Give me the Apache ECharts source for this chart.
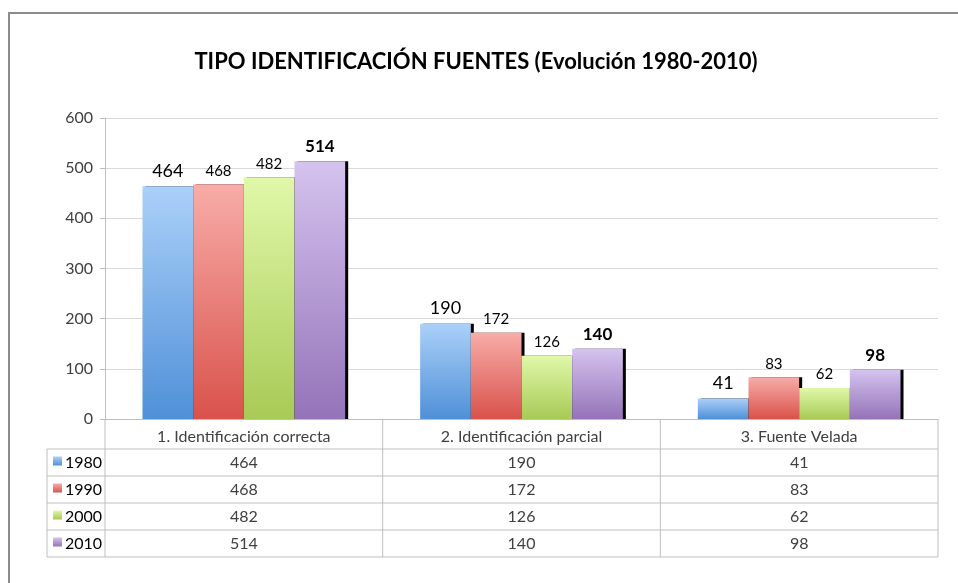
<!DOCTYPE html>
<html>
<head>
<meta charset="utf-8">
<script src="https://cdn.jsdelivr.net/npm/echarts@6/dist/echarts.min.js"></script>
<style>
  html, body { margin: 0; padding: 0; background: #fff; }
  #main { width: 958px; height: 583px; }
</style>
</head>
<body>
<div id="main"></div>
<script>
// data
const categories = ['1. Identificación correcta', '2. Identificación parcial', '3. Fuente Velada'];
const years = ['1980', '1990', '2000', '2010'];
const v1980 = [464, 190, 41];
const v1990 = [468, 172, 83];
const v2000 = [482, 126, 62];
const v2010 = [514, 140, 98];
const yTicks = [0, 100, 200, 300, 400, 500, 600];

const seriesValues = [v1980, v1990, v2000, v2010];
const topColors = ['#abd0f8', '#f8aca8', '#e0f8a9', '#d5c3ef'];
const bottomColors = ['#4f90d8', '#d9524b', '#a8ca56', '#9473b8'];
const labelStyles = [
  { fontSize: 18, fontWeight: 'normal' },
  { fontSize: 15, fontWeight: 'normal' },
  { fontSize: 15, fontWeight: 'normal' },
  { fontSize: 17, fontWeight: 'bold' }
];

const FONT = 'Lato, "Open Sans", sans-serif';
const chart = echarts.init(document.getElementById('main'));

function grad(i) {
  return new echarts.graphic.LinearGradient(0, 0, 0, 1, [
    { offset: 0, color: topColors[i] },
    { offset: 1, color: bottomColors[i] }
  ]);
}

var option = {
  backgroundColor: '#fff',
  animation: false,
  title: {
    text: 'TIPO IDENTIFICACIÓN FUENTES (Evolución 1980-2010)',
    left: 471,
    textAlign: 'center',
    top: 46,
    textStyle: { fontFamily: FONT, fontSize: 22, fontWeight: 'bold', color: '#000' }
  },
  grid: { left: 105, right: 20, top: 118, bottom: 164 },
  xAxis: {
    type: 'category',
    data: categories,
    axisLine: { lineStyle: { color: '#bfbfbf' } },
    axisTick: { show: false },
    axisLabel: { fontFamily: FONT, fontSize: 16, color: '#404040', margin: 10, interval: 0 }
  },
  yAxis: {
    type: 'value',
    min: yTicks[0],
    max: yTicks[yTicks.length - 1],
    interval: 100,
    axisLine: { show: true, lineStyle: { color: '#bfbfbf' } },
    axisTick: { show: true, length: 5, lineStyle: { color: '#bfbfbf' } },
    axisLabel: { fontFamily: FONT, fontSize: 16, color: '#404040', margin: 12 },
    splitLine: { lineStyle: { color: '#d9d9d9' } }
  },
  series: years.map(function (y, i) {
    return {
      name: y,
      type: 'bar',
      data: seriesValues[i],
      barGap: '0%',
      barCategoryGap: '27%',
      itemStyle: {
        color: grad(i),
        shadowColor: '#000',
        shadowOffsetX: 3,
        shadowOffsetY: 0,
        shadowBlur: 0
      },
      label: {
        show: true,
        position: 'top',
        distance: 6,
        fontFamily: FONT,
        color: '#000',
        fontSize: labelStyles[i].fontSize,
        fontWeight: labelStyles[i].fontWeight
      }
    };
  })
};
chart.setOption(option);

// data table under the plot
const tableTop = 419, headerH = 30, rowH = 27, tableLeft = 47;
const gridLeft = 105, gridRight = 938;
const rowsBottom = tableTop + headerH + rowH * years.length;
const lineStyle = { stroke: '#bfbfbf', lineWidth: 1 };
const g = [];

// outer frame
g.push({ type: 'polyline', shape: { points: [[9, 583], [9, 13], [958, 13]] }, style: { stroke: '#8c8c8c', lineWidth: 2, fill: null } });

// column dividers
const colEdges = [gridLeft];
categories.forEach(function (c, i) {
  const cx = chart.convertToPixel({ xAxisIndex: 0 }, c);
  colEdges.push(cx + (cx - colEdges[i]));
});
colEdges.forEach(function (x) {
  g.push({ type: 'line', shape: { x1: x, y1: tableTop, x2: x, y2: rowsBottom }, style: lineStyle });
});
g.push({ type: 'line', shape: { x1: tableLeft, y1: tableTop + headerH, x2: tableLeft, y2: rowsBottom }, style: lineStyle });

// row lines
for (let r = 0; r <= years.length; r++) {
  const y = tableTop + headerH + r * rowH;
  g.push({ type: 'line', shape: { x1: tableLeft, y1: y, x2: gridRight, y2: y }, style: lineStyle });
}

// row headers and values
years.forEach(function (yr, r) {
  const cy = tableTop + headerH + r * rowH + rowH / 2;
  g.push({ type: 'rect', shape: { x: 53, y: cy - 6, width: 9, height: 9 }, style: { fill: grad(r) } });
  g.push({ type: 'text', style: { text: yr, x: 102, y: cy, align: 'right', verticalAlign: 'middle', font: '16px ' + FONT, fill: '#000' } });
  categories.forEach(function (c, k) {
    const cx = chart.convertToPixel({ xAxisIndex: 0 }, c);
    g.push({ type: 'text', style: { text: String(seriesValues[r][k]), x: cx, y: cy, align: 'center', verticalAlign: 'middle', font: '16px ' + FONT, fill: '#404040' } });
  });
});

chart.setOption({ graphic: g });
</script>
</body>
</html>
